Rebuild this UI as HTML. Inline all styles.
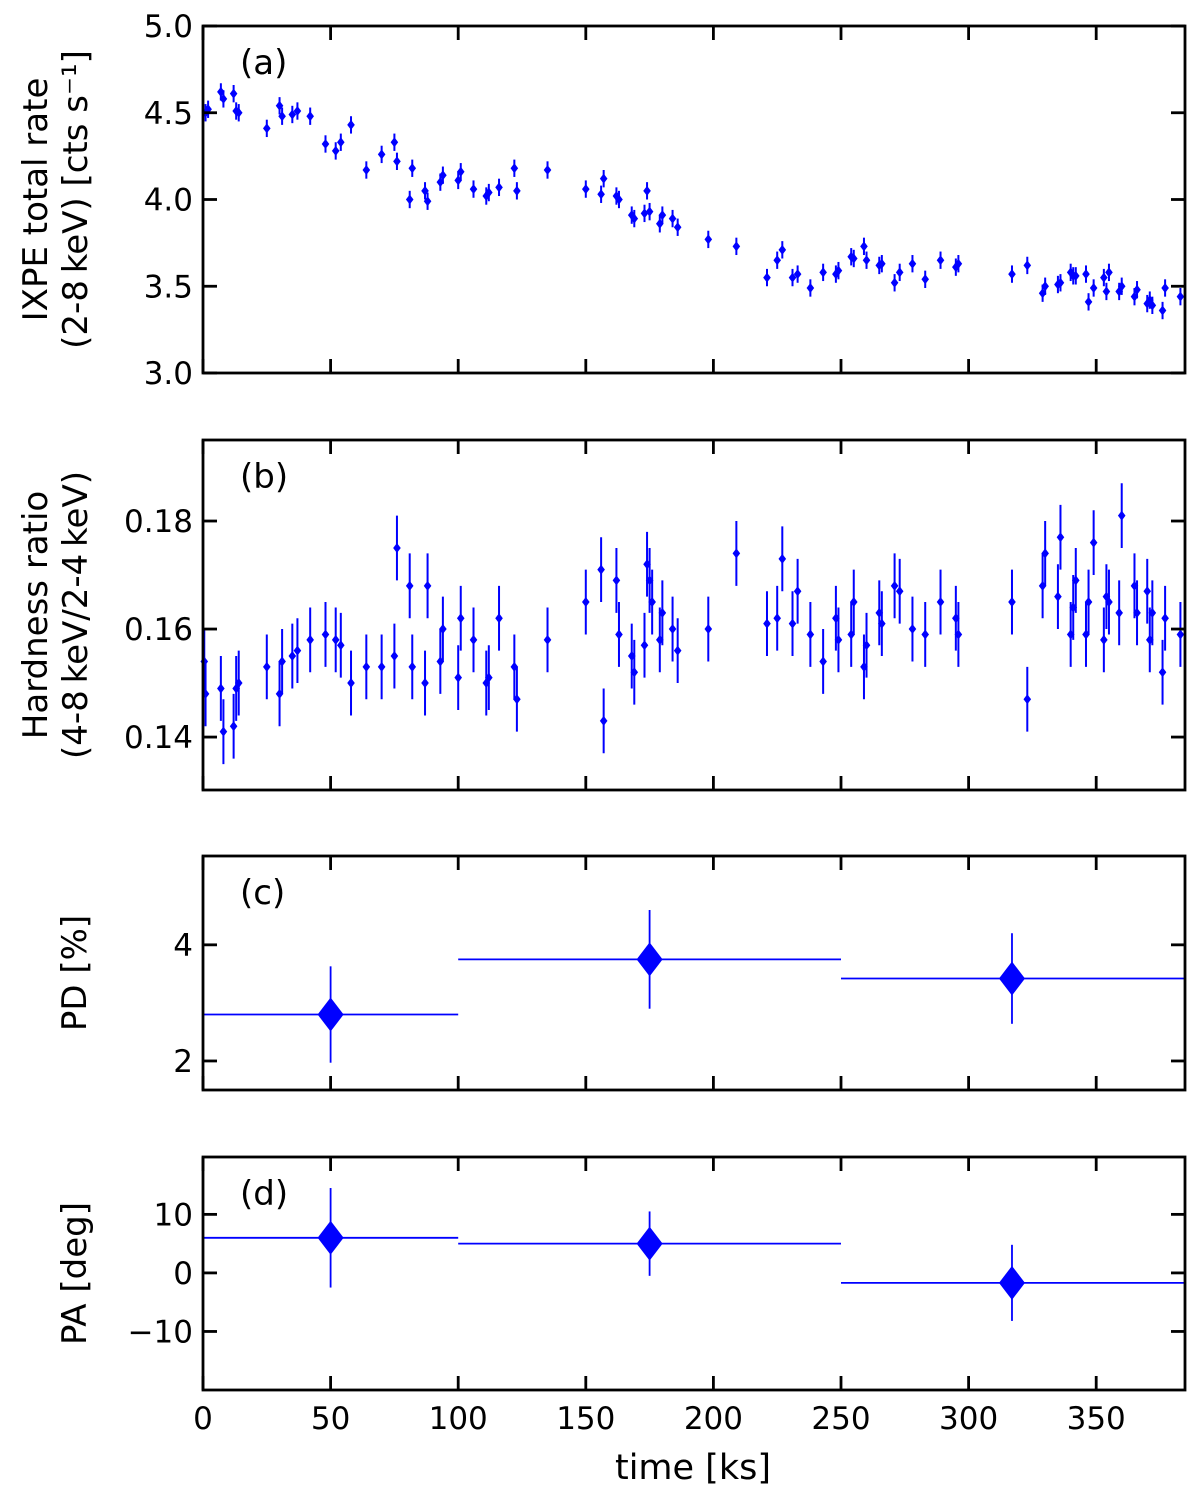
<!DOCTYPE html>
<html><head><meta charset="utf-8"><style>
html,body{margin:0;padding:0;background:#fff;}
svg{display:block;font-family:"DejaVu Sans","Liberation Sans",sans-serif;}
</style></head><body>
<svg id="fig" width="1200" height="1504" viewBox="0 0 1200 1504"></svg>
<script>
const xTicks=[0,50,100,150,200,250,300,350];
const aTime=[1,2,7,8,12,13,14,25,30,31,35,37,42,48,52,54,58,64,70,75,76,81,82,87,88,93,94,100,101,106,111,112,116,122,123,135,150,156,157,162,163,168,169,173,174,175,179,180,184,186,198,209,221,225,227,231,233,238,243,248,249,254,255,259,260,265,266,271,273,278,283,289,295,296,317,323,329,330,335,336,340,341,342,346,347,349,353,354,355,359,360,365,366,370,371,372,376,377,383];
const aRate=[4.50,4.52,4.62,4.58,4.61,4.51,4.50,4.41,4.54,4.48,4.49,4.51,4.48,4.32,4.28,4.33,4.43,4.17,4.26,4.33,4.22,4.00,4.18,4.05,3.99,4.10,4.14,4.11,4.16,4.06,4.02,4.04,4.07,4.18,4.05,4.17,4.06,4.03,4.12,4.02,4.00,3.91,3.89,3.92,4.05,3.93,3.86,3.91,3.89,3.84,3.77,3.73,3.55,3.65,3.71,3.55,3.57,3.49,3.58,3.57,3.59,3.67,3.66,3.73,3.65,3.62,3.63,3.52,3.58,3.63,3.54,3.65,3.61,3.63,3.57,3.62,3.46,3.50,3.51,3.52,3.58,3.56,3.56,3.57,3.41,3.49,3.55,3.47,3.58,3.47,3.50,3.44,3.48,3.40,3.42,3.39,3.36,3.49,3.44];
const aErr=0.05;
const bTime=[0.5,1,7,8,12,13,14,25,30,31,35,37,42,48,52,54,58,64,70,75,76,81,82,87,88,93,94,100,101,106,111,112,116,122,123,135,150,156,157,162,163,168,169,173,174,175,176,179,180,184,186,198,209,221,225,227,231,233,238,243,248,249,254,255,259,260,265,266,271,273,278,283,289,295,296,317,323,329,330,335,336,340,341,342,346,347,349,353,354,355,359,360,365,366,370,371,372,376,377,383];
const bHard=[0.154,0.148,0.149,0.141,0.142,0.149,0.150,0.153,0.148,0.154,0.155,0.156,0.158,0.159,0.158,0.157,0.150,0.153,0.153,0.155,0.175,0.168,0.153,0.150,0.168,0.154,0.160,0.151,0.162,0.158,0.150,0.151,0.162,0.153,0.147,0.158,0.165,0.171,0.143,0.169,0.159,0.155,0.152,0.157,0.172,0.169,0.165,0.158,0.163,0.160,0.156,0.160,0.174,0.161,0.162,0.173,0.161,0.167,0.159,0.154,0.162,0.158,0.159,0.165,0.153,0.157,0.163,0.161,0.168,0.167,0.160,0.159,0.165,0.162,0.159,0.165,0.147,0.168,0.174,0.166,0.177,0.159,0.164,0.169,0.159,0.165,0.176,0.158,0.166,0.165,0.163,0.181,0.168,0.163,0.167,0.158,0.163,0.152,0.162,0.159];
const bErr=0.006;
const binLo=[0,100,250], binHi=[100,250,385], binMid=[50,175,317];
const pdVal=[2.8,3.75,3.42], pdErr=[0.83,0.85,0.78];
const paVal=[6,5,-1.7], paErr=[8.5,5.5,6.5];

const NS="http://www.w3.org/2000/svg", svg=document.getElementById('fig');
const X0=203,X1=1185,TMAX=(X1-X0)/2.552;
const xs=t=>X0+(t/TMAX)*(X1-X0);
function el(tag,attrs,parent){const e=document.createElementNS(NS,tag);for(const k in attrs)e.setAttribute(k,attrs[k]);(parent||svg).appendChild(e);return e;}
const panels=[
 {id:'a',top:26,bot:373,ymin:3.0,ymax:5.0,ticks:[3.0,3.5,4.0,4.5,5.0],fmt:v=>v.toFixed(1),label:['IXPE total rate','(2-8\u2009keV) [cts s\u207B\u00B9]']},
 {id:'b',top:440,bot:790,ymin:0.1302,ymax:0.195,ticks:[0.14,0.16,0.18],fmt:v=>v.toFixed(2),label:['Hardness ratio','(4-8\u2009keV/2-4\u2009keV)']},
 {id:'c',top:856,bot:1090,ymin:1.5,ymax:5.53,ticks:[2,4],fmt:v=>String(v),label:['PD [%]']},
 {id:'d',top:1157,bot:1390,ymin:-20,ymax:19.8,ticks:[-10,0,10],fmt:v=>v<0?'\u2212'+(-v):String(v),label:['PA [deg]']}
];
panels.forEach((p,pi)=>{
 const ys=v=>p.bot-(v-p.ymin)/(p.ymax-p.ymin)*(p.bot-p.top);p.ys=ys;
 const g=el('g',{});
 
 
 const data=el('g',{},g);
 
 
 if(p.id==='a'||p.id==='b'){
  const T=p.id==='a'?aTime:bTime,V=p.id==='a'?aRate:bHard,E=p.id==='a'?aErr:bErr;
  T.forEach((t,i)=>{const x=xs(t),y=ys(V[i]);
   const l=el('line',{x1:x,x2:x,y1:ys(V[i]-E),y2:ys(V[i]+E),stroke:'#0000ff','stroke-width':2},data);
   
   const m=el('path',{d:`M${x} ${y-5}L${x+3.8} ${y}L${x} ${y+5}L${x-3.8} ${y}Z`,fill:'#0000ff'},data);
   });
 } else {
  const V=p.id==='c'?pdVal:paVal,E=p.id==='c'?pdErr:paErr;
  V.forEach((v,i)=>{const x=xs(binMid[i]),y=ys(v);
   const h=el('line',{x1:xs(binLo[i]),x2:xs(binHi[i]),y1:y,y2:y,stroke:'#0000ff','stroke-width':1.8},data);
   
   const vv=el('line',{x1:x,x2:x,y1:ys(v-E[i]),y2:ys(v+E[i]),stroke:'#0000ff','stroke-width':1.8},data);
   
   const m=el('path',{d:`M${x} ${y-17}L${x+13} ${y}L${x} ${y+17}L${x-13} ${y}Z`,fill:'#0000ff'},data);
   });
 }
 const fr=el('rect',{x:X0,y:p.top,width:X1-X0,height:p.bot-p.top,fill:'none',stroke:'#000','stroke-width':2.8},g);
 
 xTicks.forEach(t=>{const x=xs(t);
  el('line',{x1:x,x2:x,y1:p.bot,y2:p.bot-14,stroke:'#000','stroke-width':2.8},g);
  el('line',{x1:x,x2:x,y1:p.top,y2:p.top+14,stroke:'#000','stroke-width':2.8},g);
  if(pi===3){const tl=el('text',{x:x,y:p.bot+39,'font-size':31,'text-anchor':'middle'},g);tl.textContent=t;
   }
 });
 p.ticks.forEach(v=>{const y=ys(v);
  el('line',{x1:X0,x2:X0+14,y1:y,y2:y,stroke:'#000','stroke-width':2.8},g);
  el('line',{x1:X1,x2:X1-14,y1:y,y2:y,stroke:'#000','stroke-width':2.8},g);
  const tl=el('text',{x:X0-10,y:y+11,'font-size':31,'text-anchor':'end'},g);tl.textContent=p.fmt(v);
  
 });
 const pl=el('text',{x:240,y:p.top+48,'font-size':34},g);pl.textContent='('+p.id+')';
 
 const cy=(p.top+p.bot)/2;
 p.label.forEach((s,k)=>{const xx=p.label.length===2?(k===0?47:87):86;
  const yl=el('text',{x:xx,y:cy,'font-size':34,'text-anchor':'middle',transform:`rotate(-90 ${xx} ${cy})`},g);yl.textContent=s;
  });
});
const xl=el('text',{x:693,y:1479,'font-size':35,'text-anchor':'middle'});xl.textContent='time [ks]';


</script>
</body></html>
